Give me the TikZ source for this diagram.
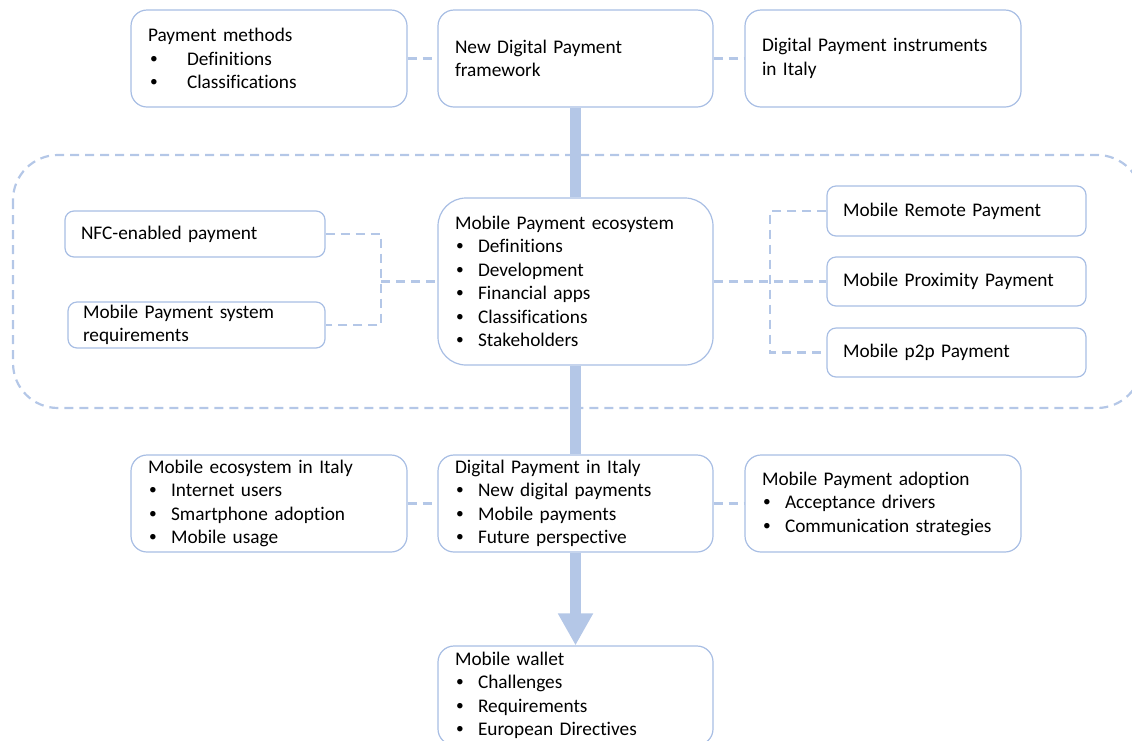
\documentclass[tikz,border=0pt]{standalone}
\usepackage{fontspec}
\setmainfont[Ligatures=NoCommon]{Carlito}
\usetikzlibrary{arrows.meta}
\definecolor{bdr}{RGB}{168,190,228}
\definecolor{lb}{RGB}{180,199,231}
\newcommand\dotb{\raisebox{0.1em}{\scalebox{0.8}{\textbullet}}}
\newcommand\bitem[1]{\makebox[23pt][l]{\hspace{1pt}\dotb}#1}
\newcommand\bwide[1]{\makebox[39pt][l]{\hspace{2pt}\dotb}#1}
\tikzset{
  box/.style={draw=bdr, line width=1.2pt, fill=white, rounded corners=16pt,
    inner xsep=17pt, inner ysep=0pt, align=left,
    font=\fontsize{19.3}{23.5}\selectfont},
  sbox/.style={box, rounded corners=9pt},
  conn/.style={draw=lb, line width=2.2pt, dash pattern=on 9pt off 6pt},
  bar/.style={draw=lb, line width=11pt},
}
\begin{document}
\begin{tikzpicture}[x=1pt,y=-1pt]
\useasboundingbox (0,0) rectangle (1132,740);
\clip (0,0) rectangle (1132,740);
% group frame
\draw[conn, rounded corners=45pt] (13,155) rectangle (1142,408);
% top row
\node[box, text width=242pt, minimum height=97pt] (pm) at (269,58.5)
  {Payment methods\\\bwide{Definitions}\\\bwide{Classifications}};
\node[box, text width=241pt, minimum height=97pt] (nb) at (575.5,58.5)
  {New Digital Payment\\framework};
\node[box, text width=242pt, minimum height=97pt] (dpin) at (883,58.5)
  {Digital Payment instruments\\in Italy};
% middle
\node[box, rounded corners=28pt, text width=241pt, minimum height=167pt] (d) at (575.5,281.5)
  {Mobile Payment ecosystem\\\bitem{Definitions}\\\bitem{Development}\\\bitem{Financial apps}\\\bitem{Classifications}\\\bitem{Stakeholders}};
\node[sbox, text width=228pt, minimum height=46pt, inner xsep=16pt] (nfc) at (195,234)
  {NFC-enabled payment};
\node[sbox, text width=227pt, minimum height=46pt, inner xsep=15pt] (req) at (196.5,325)
  {Mobile Payment system\\requirements};
\node[sbox, text width=227pt, minimum height=50pt, inner xsep=16pt] (rem) at (956.5,211)
  {Mobile Remote Payment};
\node[sbox, text width=227pt, minimum height=49pt, inner xsep=16pt] (prox) at (956.5,281.5)
  {Mobile Proximity Payment};
\node[sbox, text width=227pt, minimum height=49pt, inner xsep=16pt] (p2p) at (956.5,352.5)
  {Mobile p2p Payment};
% bottom row
\node[box, text width=242pt, minimum height=97pt] (me) at (269,503.5)
  {Mobile ecosystem in Italy\\\bitem{Internet users}\\\bitem{Smartphone adoption}\\\bitem{Mobile usage}};
\node[box, text width=241pt, minimum height=97pt] (dpi) at (575.5,503.5)
  {Digital Payment in Italy\\\bitem{New digital payments}\\\bitem{Mobile payments}\\\bitem{Future perspective}};
\node[box, text width=242pt, minimum height=97pt] (mpa) at (883,503.5)
  {Mobile Payment adoption\\\bitem{Acceptance drivers}\\\bitem{Communication strategies}};
\node[box, text width=241pt, minimum height=99pt] (w) at (575.5,695.5)
  {Mobile wallet\\\bitem{Challenges}\\\bitem{Requirements}\\\bitem{European Directives}};
% connectors
\draw[conn] (pm.east) -- (nb.west);
\draw[conn] (nb.east) -- (dpin.west);
\draw[conn] (me.east) -- (dpi.west);
\draw[conn] (dpi.east) -- (mpa.west);
\coordinate (lj) at (381,281.5);
\coordinate (rj) at (770,281.5);
\draw[conn] (nfc.east) -| (lj) |- (req.east);
\draw[conn] (lj) -- (d.west);
\draw[conn] (rem.west) -| (rj) |- (p2p.west);
\draw[conn] (d.east) -- (prox.west);
% main flow
\draw[bar] (nb.south) -- (d.north);
\draw[bar] (d.south) -- (dpi.north);
\draw[bar, -{Triangle[width=33pt,length=32pt]}] (dpi.south) -- (w.north);
\end{tikzpicture}
\end{document}
